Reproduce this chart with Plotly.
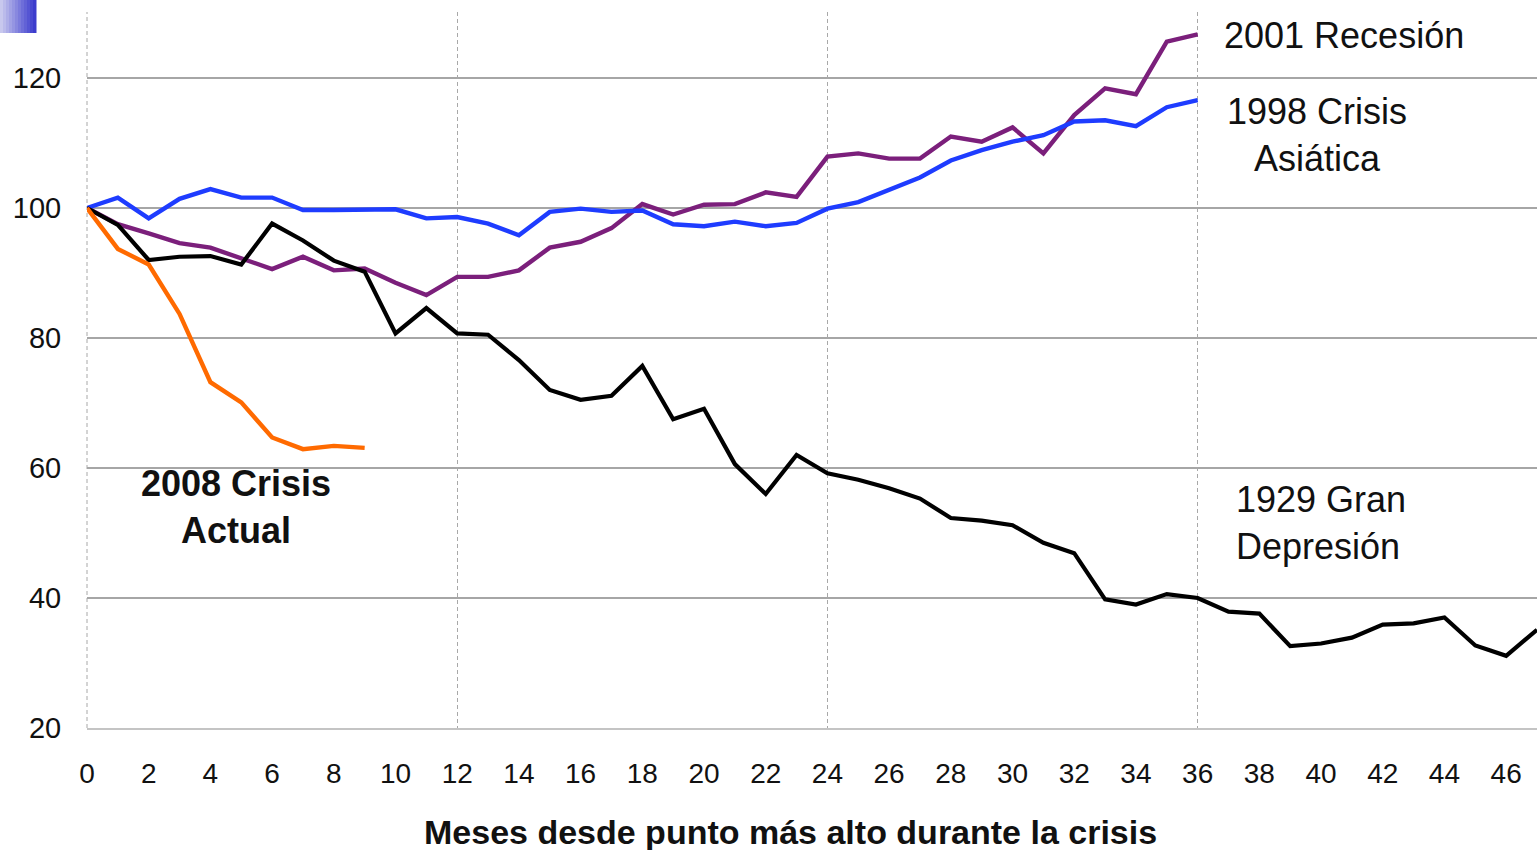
import plotly.graph_objects as go

# ---------------- data ----------------
months_1929 = list(range(48))
gran_depresion_1929 = [100, 97.4, 92.0, 92.5, 92.6, 91.3, 97.6, 95.0, 91.9, 90.2,
                       80.7, 84.6, 80.7, 80.5, 76.6, 72.0, 70.5, 71.1, 75.7, 67.5,
                       69.1, 60.6, 56.0, 62.0, 59.2, 58.2, 56.9, 55.3, 52.3, 51.9,
                       51.2, 48.5, 46.9, 39.8, 39.0, 40.6, 40.0, 37.9, 37.6, 32.6,
                       33.0, 33.9, 35.9, 36.1, 37.0, 32.7, 31.1, 35.1]

months_1998 = list(range(37))
crisis_asiatica_1998 = [100, 101.6, 98.4, 101.4, 102.9, 101.6, 101.6, 99.7, 99.7, 99.7,
                        99.8, 98.4, 98.6, 97.6, 95.8, 99.4, 99.9, 99.4, 99.6, 97.5,
                        97.2, 97.9, 97.2, 97.7, 99.9, 100.9, 102.8, 104.7, 107.3, 108.9,
                        110.2, 111.2, 113.3, 113.5, 112.6, 115.5, 116.6]

months_2001 = list(range(37))
recesion_2001 = [100, 97.5, 96.1, 94.6, 93.9, 92.3, 90.6, 92.5, 90.4, 90.7,
                 88.5, 86.6, 89.4, 89.4, 90.4, 93.9, 94.8, 96.9, 100.6, 99.0,
                 100.5, 100.6, 102.4, 101.7, 107.9, 108.4, 107.6, 107.6, 111.0, 110.2,
                 112.4, 108.4, 114.3, 118.4, 117.5, 125.6, 126.7]

months_2008 = list(range(10))
crisis_actual_2008 = [100, 93.7, 91.3, 83.7, 73.2, 70.1, 64.7, 62.9, 63.4, 63.1]

x_ticks = list(range(0, 48, 2))
y_ticks = [20, 40, 60, 80, 100, 120]
major_grid_months = [12, 24, 36]

labels = {
    "2001": "2001 Recesión",
    "1998": "1998 Crisis<br>Asiática",
    "1929": "1929 Gran<br>Depresión",
    "2008": "<b>2008 Crisis<br>Actual</b>",
}
x_title = "<b>Meses desde punto más alto durante la crisis</b>"

# ---------------- figure ----------------
FONT = "Liberation Sans, Arial, sans-serif"
DASH = "4px,3px"

fig = go.Figure()
fig.add_trace(go.Scatter(x=months_2001, y=recesion_2001, mode="lines",
                         line=dict(color="#7B1F7B", width=4.4), name="2001"))
fig.add_trace(go.Scatter(x=months_1998, y=crisis_asiatica_1998, mode="lines",
                         line=dict(color="#1E3CFF", width=4.4), name="1998"))
fig.add_trace(go.Scatter(x=months_1929, y=gran_depresion_1929, mode="lines",
                         line=dict(color="#000000", width=4.2), name="1929"))
fig.add_trace(go.Scatter(x=months_2008, y=crisis_actual_2008, mode="lines",
                         line=dict(color="#FF6A00", width=4.4), name="2008"))
# invisible helper trace so the dashed-grid overlay axis is drawn
fig.add_trace(go.Scatter(x=[None], y=[None], xaxis="x2", showlegend=False,
                         hoverinfo="skip"))

fig.update_layout(
    width=1537, height=850,
    margin=dict(l=87, r=0, t=12, b=122),
    paper_bgcolor="white", plot_bgcolor="white",
    showlegend=False,
    font=dict(family=FONT, color="#111111"),
    xaxis=dict(range=[0, 47], tickvals=x_ticks, showgrid=False, zeroline=False,
               showline=True, linecolor="#C4C4C4", linewidth=2,
               ticks="outside", ticklen=19, tickcolor="rgba(0,0,0,0)",
               tickfont=dict(family=FONT, size=28, color="#111111")),
    xaxis2=dict(range=[0, 47], overlaying="x", anchor="y", tickvals=major_grid_months,
                showticklabels=False, showgrid=True, gridcolor="#A8A8A8",
                griddash=DASH, gridwidth=1, zeroline=False, showline=False),
    yaxis=dict(range=[20, 130.15], tickvals=y_ticks, showgrid=True,
               gridcolor="#A6A6A6", gridwidth=2, zeroline=False, showline=False,
               ticks="outside", ticklen=19, tickcolor="rgba(0,0,0,0)",
               tickfont=dict(family=FONT, size=29, color="#111111")),
)

# dashed left border of the plot area
fig.add_shape(type="line", xref="x domain", yref="y domain", x0=0, x1=0, y0=0, y1=1,
              line=dict(color="#A8A8A8", width=1, dash=DASH), layer="below")

fig.add_annotation(x=36.8, y=126.6, text=labels["2001"], showarrow=False,
                   xanchor="left", yanchor="middle",
                   font=dict(family=FONT, size=36, color="#111111"))
fig.add_annotation(x=39.87, y=111.2, text=labels["1998"], showarrow=False,
                   xanchor="center", yanchor="middle", align="center",
                   font=dict(family=FONT, size=36, color="#111111"))
fig.add_annotation(x=40.0, y=51.6, text=labels["1929"], showarrow=False,
                   xanchor="center", yanchor="middle", align="left",
                   font=dict(family=FONT, size=36, color="#111111"))
fig.add_annotation(x=4.83, y=54.0, text=labels["2008"], showarrow=False,
                   xanchor="center", yanchor="middle", align="center",
                   font=dict(family=FONT, size=36, color="#111111"))
fig.add_annotation(xref="paper", yref="paper", x=(790 - 87) / 1450, y=(728 - 832) / 716,
                   text=x_title, showarrow=False, xanchor="center", yanchor="middle",
                   font=dict(family=FONT, size=34, color="#111111"))

# decorative gradient bullet in top-left corner
n_strips = 12
for i in range(n_strips):
    t = i / (n_strips - 1)
    r = int(200 + (60 - 200) * t)
    g = int(200 + (60 - 200) * t)
    b = int(238 + (205 - 238) * t)
    px0 = 36 * i / n_strips
    px1 = 36 * (i + 1) / n_strips + 0.5
    fig.add_shape(type="rect", xref="paper", yref="paper",
                  x0=(px0 - 87) / 1450, x1=(px1 - 87) / 1450,
                  y0=(728 - 33) / 716, y1=(728 - 0) / 716,
                  line=dict(width=0), fillcolor=f"rgb({r},{g},{b})", layer="above")

fig.write_html("out.html", config={"displayModeBar": False},
               post_script="document.body.style.margin='0px';document.body.style.overflow='hidden';")
